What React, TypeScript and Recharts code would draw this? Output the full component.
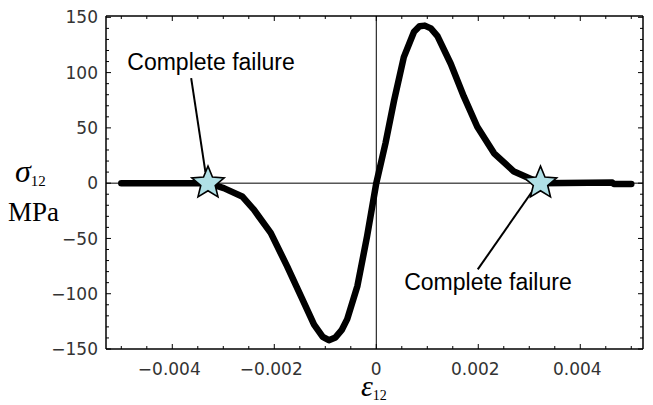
import React from 'react';
import { ComposedChart, Line, Scatter, XAxis, YAxis, ReferenceLine, ReferenceDot, Label } from 'recharts';

// shear strain ε12 and shear stress σ12 (MPa)
const strain = [-0.005, -0.0033, -0.00299, -0.00263, -0.0024, -0.00207, -0.00175, -0.00148, -0.00122, -0.00105, -0.00093, -0.0008, -0.00068, -0.00057, -0.00037, -0.00018, 0, 0.00018, 0.00035, 0.00054, 0.00074, 0.00085, 0.00095, 0.00107, 0.0012, 0.00146, 0.00172, 0.00198, 0.00231, 0.0027, 0.00322, 0.00463, 0.00466, 0.005];
const stress = [0, 0, -4.5, -12, -24, -45, -75, -102, -128, -139, -142, -139.5, -133, -123, -93, -48, 0, 36, 75, 114, 137, 142, 142.5, 140, 133, 108, 78, 51, 27, 10.5, 0, 0.5, -0.7, -0.7];

const failureStrain = [-0.0033, 0.00322];
const failureStress = [0, 0];

const arrow1Strain = [-0.00363, -0.00335];
const arrow1Stress = [95, 10];
const arrow2Strain = [0.00199, 0.00308];
const arrow2Stress = [-78, -6];

const noteStrain = [-0.00324, 0.00219];
const noteStress = [102.4, -96.4];
const noteText = ['Complete failure', 'Complete failure'];

const xMajorTicks = [-0.004, -0.002, 0, 0.002, 0.004];
const xMinorTicks = [-0.005, -0.0045, -0.0035, -0.003, -0.0025, -0.0015, -0.001, -0.0005, 0.0005, 0.001, 0.0015, 0.0025, 0.003, 0.0035, 0.0045, 0.005];
const yMajorTicks = [-150, -100, -50, 0, 50, 100, 150];
const yMinorTicks = [-140, -130, -120, -110, -90, -80, -70, -60, -40, -30, -20, -10, 10, 20, 30, 40, 60, 70, 80, 90, 110, 120, 130, 140];

const curve = strain.map((x, i) => ({ x, y: stress[i] }));
const stars = failureStrain.map((x, i) => ({ x, y: failureStress[i] }));
const arrow1 = arrow1Strain.map((x, i) => ({ x, y: arrow1Stress[i] }));
const arrow2 = arrow2Strain.map((x, i) => ({ x, y: arrow2Stress[i] }));
const xTicks = [...xMajorTicks, ...xMinorTicks].sort((a, b) => a - b);
const yTicks = [...yMajorTicks, ...yMinorTicks].sort((a, b) => a - b);

const isMajor = (list: number[], v: number) => list.some((t) => Math.abs(t - v) < 1e-9);
const fmtX = (v: number) => (Math.abs(v) < 1e-12 ? '0' : (v < 0 ? '\u2212' : '') + Math.abs(v).toFixed(3));
const fmtY = (v: number) => (v === 0 ? '0' : (v < 0 ? '\u2212' : '') + Math.abs(v));

const tickFont = { fontFamily: 'DejaVu Sans', fontSize: 17, fill: '#333' };

const BottomTick = (p: any) => {
  const v = p.payload.value;
  const major = isMajor(xMajorTicks, v);
  return (
    <g>
      <line x1={p.x} y1={p.y} x2={p.x} y2={p.y - (major ? 5 : 3)} stroke="#000" strokeWidth={1} />
      {major && (
        <text x={p.x + (v === 0 ? 0 : -3)} y={p.y + 26} textAnchor="middle" {...tickFont}>
          {fmtX(v)}
        </text>
      )}
    </g>
  );
};
const TopTick = (p: any) => {
  const major = isMajor(xMajorTicks, p.payload.value);
  return <line x1={p.x} y1={p.y} x2={p.x} y2={p.y + (major ? 5 : 3)} stroke="#000" strokeWidth={1} />;
};
const LeftTick = (p: any) => {
  const v = p.payload.value;
  const major = isMajor(yMajorTicks, v);
  return (
    <g>
      <line x1={p.x} y1={p.y} x2={p.x + (major ? 5 : 3)} y2={p.y} stroke="#000" strokeWidth={1} />
      {major && (
        <text x={p.x - 8} y={p.y} dy="0.36em" textAnchor="end" {...tickFont}>
          {fmtY(v)}
        </text>
      )}
    </g>
  );
};
const RightTick = (p: any) => {
  const major = isMajor(yMajorTicks, p.payload.value);
  return <line x1={p.x} y1={p.y} x2={p.x - (major ? 5 : 3)} y2={p.y} stroke="#000" strokeWidth={1} />;
};

const StarShape = (p: any) => {
  const { cx, cy } = p;
  const R = 17;
  const r = 7.6;
  const pts: string[] = [];
  for (let i = 0; i < 10; i++) {
    const a = -Math.PI / 2 + (i * Math.PI) / 5;
    const rad = i % 2 === 0 ? R : r;
    pts.push(`${cx + rad * Math.cos(a)},${cy + rad * Math.sin(a)}`);
  }
  return <polygon points={pts.join(' ')} fill="#b0e0e6" stroke="#000" strokeWidth={1.6} strokeLinejoin="miter" />;
};

const YTitle = () => (
  <g>
    <text x={15} y={182} fontFamily="Liberation Serif" fontStyle="italic" fontSize={32} fill="#000">
      σ
      <tspan fontStyle="normal" fontSize={15} dy={4}>12</tspan>
    </text>
    <text x={8} y={221} fontFamily="Liberation Serif" fontSize={27} fill="#000">MPa</text>
  </g>
);
const XTitle = () => (
  <text x={361} y={396} fontFamily="Liberation Serif" fontStyle="italic" fontSize={30} fill="#000">
    ε
    <tspan fontStyle="normal" fontSize={14} dy={4}>12</tspan>
  </text>
);

const noteShape = (text: string) => (p: any) => (
  <text x={p.cx} y={p.cy} textAnchor="middle" fontFamily="Liberation Sans" fontSize={23} fill="#000">
    {text}
  </text>
);

export default function App() {
  const xDomain = [-0.0053, 0.00523];
  const yDomain = [-150, 151.2];
  return (
    <div style={{ position: 'absolute', left: 0, top: 0, width: 653, height: 405, background: '#fff' }}>
      <ComposedChart width={653} height={405} margin={{ top: 0, right: 0, bottom: 0, left: 0 }}>
        <XAxis
          xAxisId={0}
          type="number"
          dataKey="x"
          domain={xDomain}
          allowDataOverflow
          ticks={xTicks}
          interval={0}
          height={56}
          tickSize={0}
          tickMargin={0}
          tickLine={false}
          tick={BottomTick}
          axisLine={{ stroke: '#000', strokeWidth: 1.5 }}
        >
          <Label content={XTitle} />
        </XAxis>
        <XAxis
          xAxisId="top"
          orientation="top"
          type="number"
          dataKey="x"
          domain={xDomain}
          allowDataOverflow
          ticks={xTicks}
          interval={0}
          height={16}
          tickSize={0}
          tickMargin={0}
          tickLine={false}
          tick={TopTick}
          axisLine={{ stroke: '#000', strokeWidth: 1.5 }}
        />
        <YAxis
          yAxisId={0}
          type="number"
          domain={yDomain}
          allowDataOverflow
          ticks={yTicks}
          interval={0}
          width={106}
          tickSize={0}
          tickMargin={0}
          tickLine={false}
          tick={LeftTick}
          axisLine={{ stroke: '#000', strokeWidth: 1.5 }}
        >
          <Label content={YTitle} />
        </YAxis>
        <YAxis
          yAxisId="right"
          orientation="right"
          type="number"
          domain={yDomain}
          allowDataOverflow
          ticks={yTicks}
          interval={0}
          width={10}
          tickSize={0}
          tickMargin={0}
          tickLine={false}
          tick={RightTick}
          axisLine={{ stroke: '#000', strokeWidth: 1.5 }}
        />
        <ReferenceLine y={0} stroke="#000" strokeWidth={1} />
        <ReferenceLine x={0} stroke="#000" strokeWidth={1} />
        <Line
          data={curve}
          dataKey="y"
          type="linear"
          stroke="#000"
          strokeWidth={6.5}
          strokeLinecap="round"
          strokeLinejoin="round"
          dot={false}
          activeDot={false}
          isAnimationActive={false}
        />
        <Line data={arrow1} dataKey="y" type="linear" stroke="#000" strokeWidth={2} dot={false} activeDot={false} isAnimationActive={false} />
        <Line data={arrow2} dataKey="y" type="linear" stroke="#000" strokeWidth={2} dot={false} activeDot={false} isAnimationActive={false} />
        <Scatter data={stars} dataKey="y" shape={StarShape} isAnimationActive={false} />
        {noteStrain.map((x, i) => (
          <ReferenceDot key={i} x={x} y={noteStress[i]} r={0} shape={noteShape(noteText[i])} ifOverflow="visible" />
        ))}
      </ComposedChart>
    </div>
  );
}
